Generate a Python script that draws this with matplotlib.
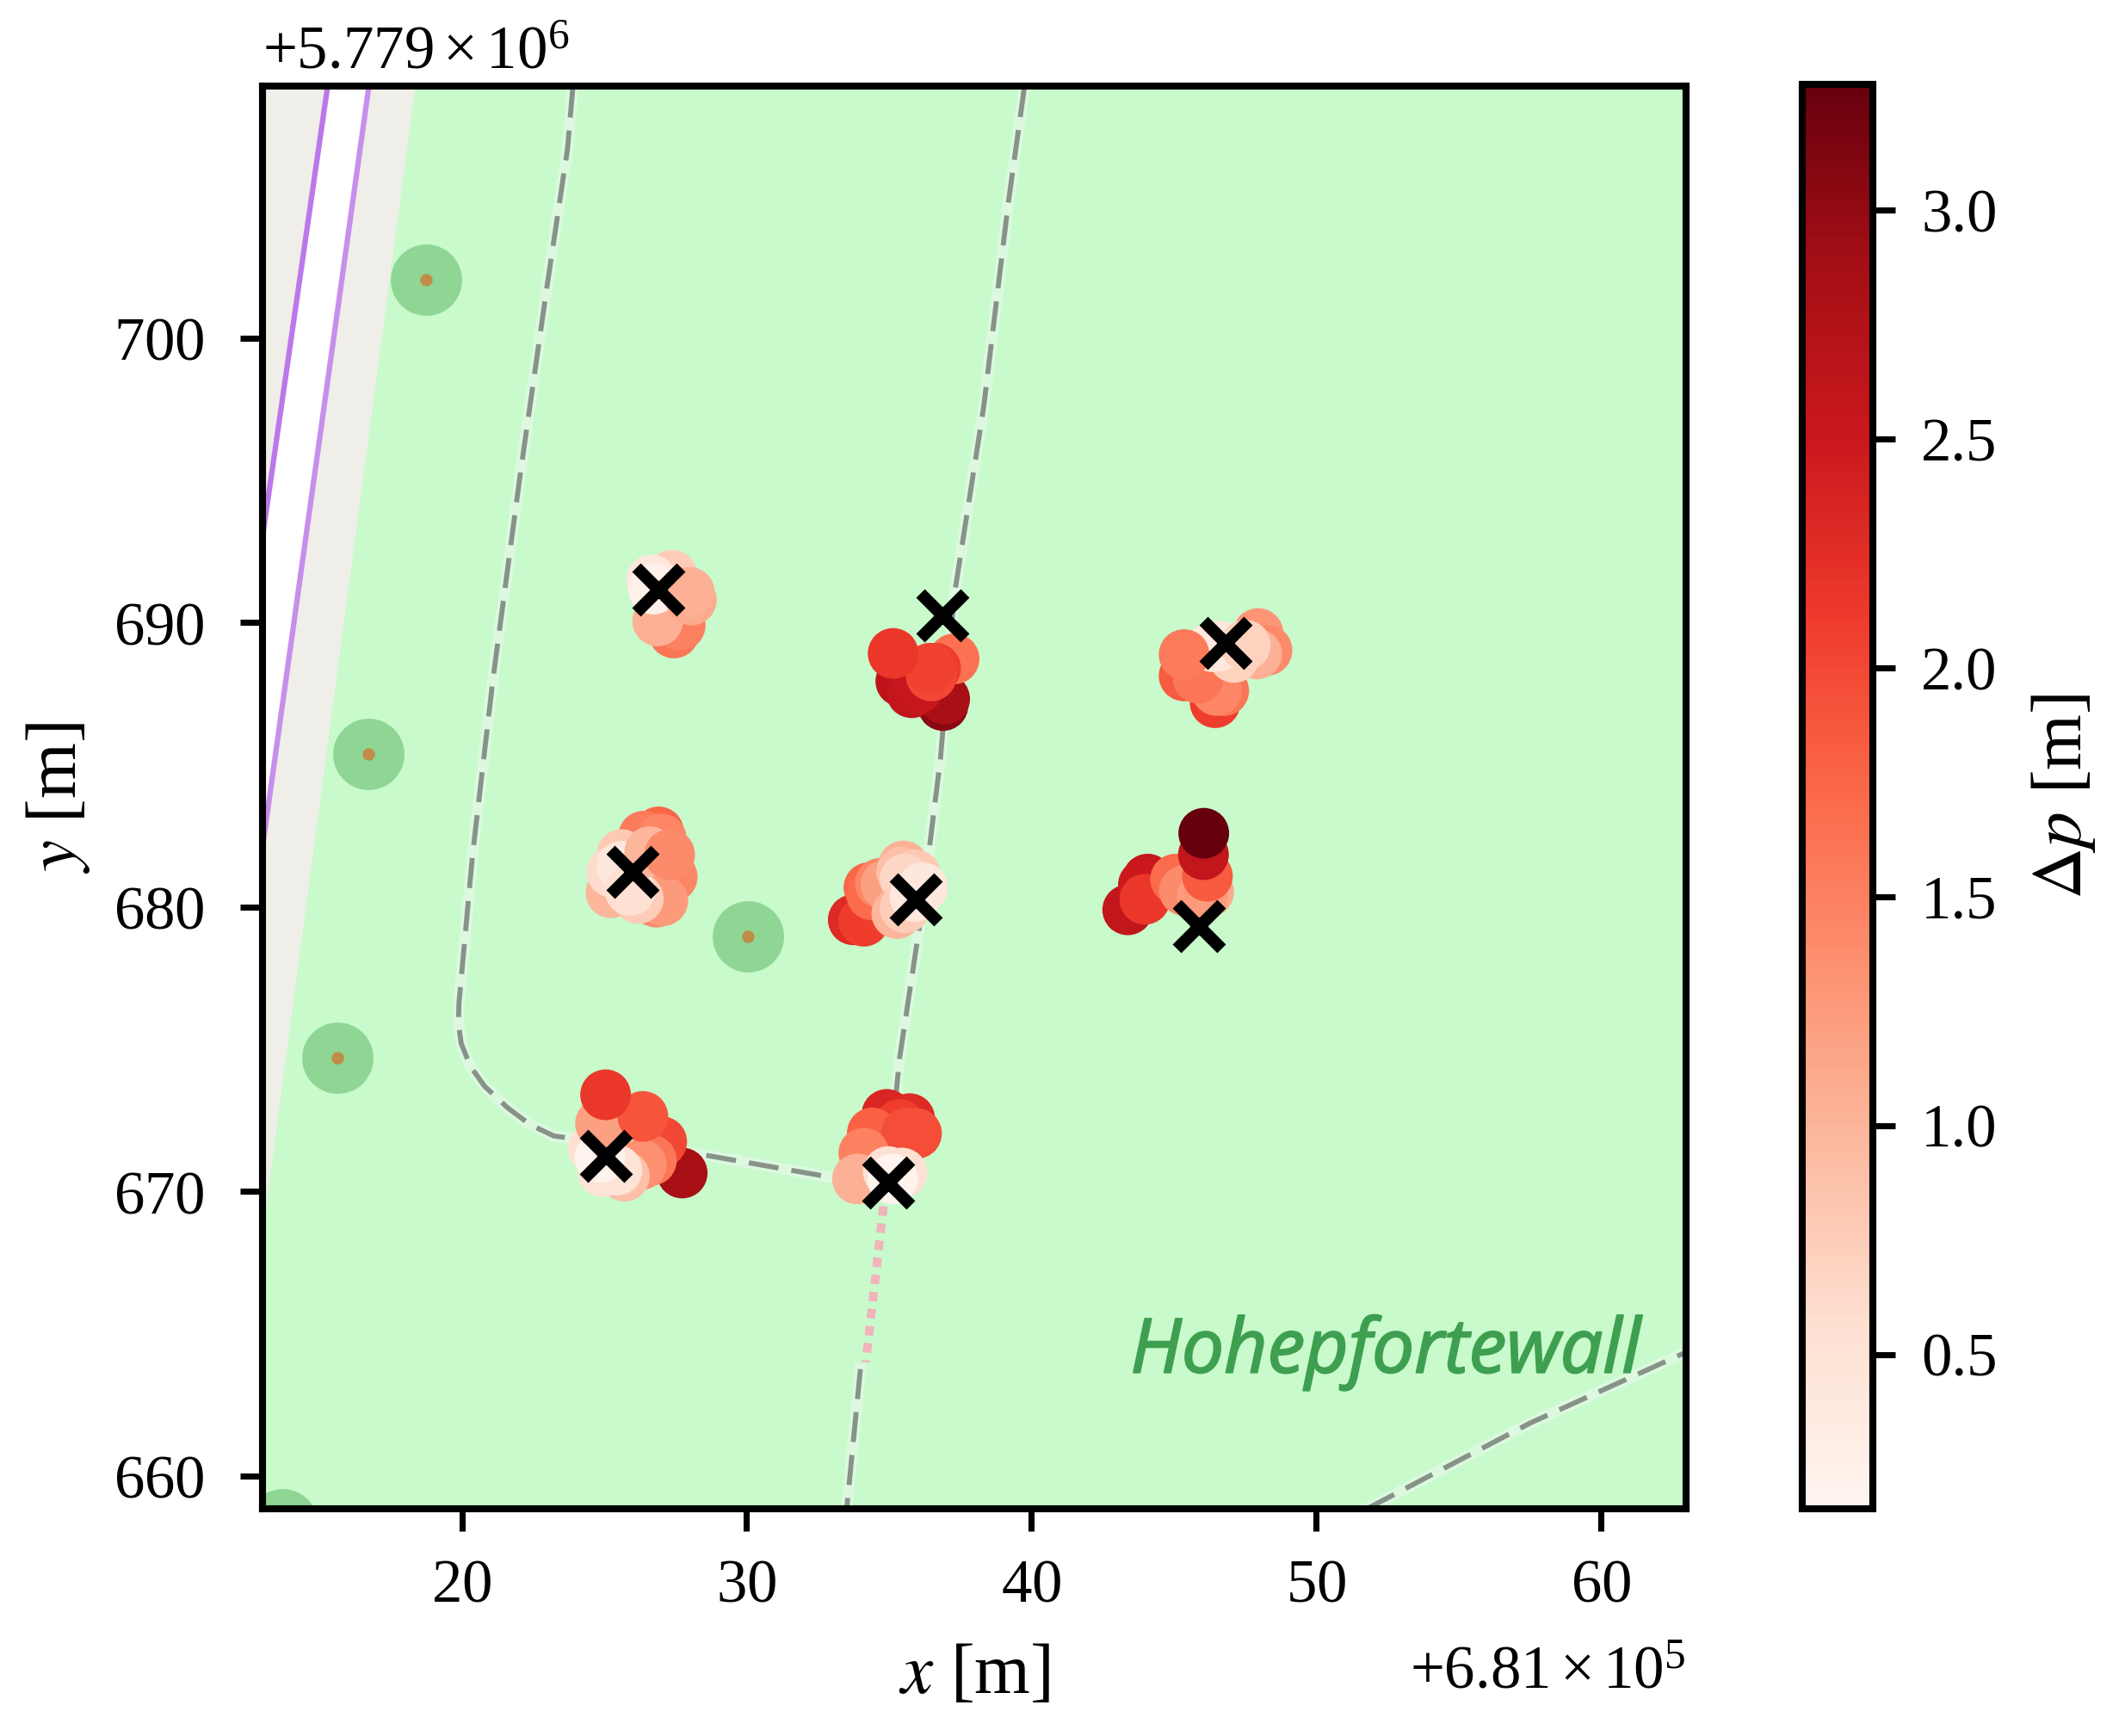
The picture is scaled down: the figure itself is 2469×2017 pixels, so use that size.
import numpy as np
import matplotlib
matplotlib.use('Agg')
import matplotlib.pyplot as plt
import matplotlib.patheffects as pe
from matplotlib.ticker import MultipleLocator, ScalarFormatter

plt.rcParams['font.family'] = ['Liberation Serif', 'DejaVu Serif']
plt.rcParams['mathtext.fontset'] = 'stix'

X0 = 681000
Y0 = 5779000

# measured positions (offset removed), one list per cluster, in drawing order
ax_x = [27.45, 27.67, 26.88, 27.38, 26.66, 26.73, 28.06, 27.99]
ax_y = [689.63, 689.90, 690.05, 691.66, 691.49, 691.17, 690.79, 691.06]
ax_v = [1.6, 1.5, 1.05, 0.75, 0.4, 0.25, 1.1, 1.05]

bx_x = [36.90, 36.96, 35.42, 35.80, 36.03, 37.29, 36.64, 36.49, 36.44, 35.15]
bx_y = [687.08, 687.31, 687.93, 687.53, 687.68, 688.72, 688.39, 688.12, 688.39, 688.91]
bx_v = [3.05, 2.85, 2.65, 2.6, 2.55, 1.65, 2.1, 2.0, 2.05, 2.15]

cx_x = [26.91, 26.39, 27.01, 27.39, 26.83, 27.06, 25.24, 26.20, 25.62, 25.27, 25.62, 25.91, 26.60, 27.30]
cx_y = [682.64, 682.49, 682.39, 681.06, 680.17, 680.22, 680.50, 680.30, 681.84, 681.23, 681.43, 680.58, 681.94, 681.84]
cx_v = [1.75, 1.55, 1.45, 1.45, 1.4, 1.25, 1.0, 0.75, 0.8, 0.6, 0.4, 0.55, 1.0, 1.4]

dx_x = [33.75, 34.12, 34.30, 34.41, 34.70, 34.90, 35.51, 35.45, 35.92, 35.57, 35.28, 35.57, 36.18, 35.92]
dx_y = [679.55, 679.50, 680.68, 680.42, 680.83, 680.78, 681.44, 681.23, 681.13, 680.98, 679.77, 679.97, 680.68, 680.37]
dx_v = [2.3, 2.1, 1.75, 1.7, 1.45, 1.2, 1.05, 0.9, 0.8, 0.65, 1.0, 0.75, 0.4, 0.4]

ex_x = [46.46, 46.76, 46.51, 45.37, 45.86, 47.97, 48.28, 47.92, 47.12, 46.61, 46.36, 47.52, 45.37]
ex_y = [687.18, 687.60, 687.61, 688.12, 688.04, 689.61, 689.02, 688.89, 688.77, 689.17, 689.15, 689.20, 688.87]
ex_v = [2.1, 1.6, 1.45, 1.85, 1.6, 1.3, 1.4, 1.05, 0.7, 0.45, 0.4, 0.7, 1.55]

fx_x = [43.39, 44.09, 43.94, 43.99, 45.07, 45.38, 46.23, 46.01, 46.19, 46.05, 46.06]
fx_y = [679.90, 680.98, 680.78, 680.27, 680.98, 680.58, 680.53, 680.38, 681.08, 681.84, 682.59]
fx_v = [2.6, 2.55, 2.5, 2.15, 1.7, 1.4, 1.1, 1.25, 1.85, 2.6, 3.27]

gx_x = [27.74, 27.02, 26.66, 26.31, 25.71, 24.62, 24.95, 25.45, 24.85, 24.87, 26.36, 25.05]
gx_y = [670.65, 671.75, 671.10, 670.95, 670.54, 671.50, 670.70, 670.75, 671.20, 672.39, 672.64, 673.40]
gx_v = [2.85, 2.0, 1.6, 1.35, 0.9, 0.55, 0.5, 0.5, 0.2, 1.2, 1.9, 2.15]

hx_x = [34.93, 35.73, 35.38, 34.42, 35.63, 35.97, 34.12, 33.90, 34.98, 35.46, 35.13]
hx_y = [672.71, 672.56, 672.36, 672.06, 672.06, 672.04, 671.35, 670.44, 670.70, 670.65, 670.44]
hx_v = [2.35, 2.3, 2.1, 1.8, 1.95, 1.95, 1.5, 1.05, 0.55, 0.55, 0.2]

cross_x = [26.91, 36.88, 25.99, 35.94, 46.83, 45.89, 25.05, 34.98]
cross_y = [691.16, 690.25, 681.23, 680.27, 689.29, 679.34, 671.25, 670.31]

# map background
road_x = [10, 18.3, 11.8, 10]
road_y = [709.5, 708.8, 660.0, 660.0]
lane1_x = [15.27, 13.0, 12.0]
lane1_y = [708.73, 693.0, 686.0]
lane2_x = [16.72, 13.0, 12.0]
lane2_y = [708.73, 682.1, 675.0]
tree_x = [18.74, 16.71, 30.05, 15.62, 13.7]
tree_y = [702.05, 685.38, 678.95, 674.71, 658.3]
path1_x = [23.9, 23.71, 23.0, 22.05, 21.1, 20.38, 19.9, 19.88, 19.98, 20.3, 20.8, 21.6, 22.4, 23.24, 28.48, 32.86]
path1_y = [708.8, 706.62, 701.86, 695.19, 688.05, 681.86, 676.62, 675.9, 675.2, 674.4, 673.7, 672.95, 672.35, 671.95, 671.29, 670.52]
path2_x = [39.76, 39.19, 38.33, 37.29, 36.81, 36.1, 35.38, 35.0]
path2_y = [708.81, 704.71, 697.57, 690.9, 685.19, 679.48, 674.71, 670.9]
path3_x = [34.0, 33.52]
path3_y = [663.76, 658.86]
path4_x = [51.81, 57.52, 62.95]
path4_y = [658.86, 661.86, 664.33]
pink_x = [34.81, 34.19]
pink_y = [669.48, 664.0]

fig = plt.figure(figsize=(2469 / 300, 2017 / 300), dpi=300)
ax = fig.add_axes([305 / 2469, 1 - 1753 / 2017, 1654 / 2469, 1653 / 2017])
ax.set_facecolor('#c8facc')

ax.fill(np.array(road_x) + X0, np.array(road_y) + Y0, color='#f0eee8', zorder=1)
ax.fill(np.array(lane1_x[:2] + lane2_x[:2][::-1]) + X0,
        np.array(lane1_y[:2] + lane2_y[:2][::-1]) + Y0, color='white', zorder=1.1)
ax.plot(np.array(lane1_x) + X0, np.array(lane1_y) + Y0, color='#bb78ea', lw=1.5, zorder=1.2)
ax.plot(np.array(lane2_x) + X0, np.array(lane2_y) + Y0, color='#c88eec', lw=1.5, zorder=1.2)
ax.scatter(np.array(tree_x) + X0, np.array(tree_y) + Y0, s=395, color='#8fd694', lw=0, zorder=1.5)
ax.scatter(np.array(tree_x) + X0, np.array(tree_y) + Y0, s=12, color='#c08c48', lw=0, zorder=1.6)

for px, py in [(path1_x, path1_y), (path2_x, path2_y), (path3_x, path3_y), (path4_x, path4_y)]:
    ax.plot(np.array(px) + X0, np.array(py) + Y0, color='#dcf9df', lw=3.2, zorder=2)
    ax.plot(np.array(px) + X0, np.array(py) + Y0, color='#879389', lw=1.4,
            linestyle=(0, (6, 2.6)), zorder=2.1)
ax.plot(np.array(pink_x) + X0, np.array(pink_y) + Y0, color='#f0b4ba', lw=2.4,
        linestyle=(0, (1.1, 0.9)), zorder=2.1)
ax.text(52.45 + X0, 664.35 + Y0, 'Hohepfortewall', family='Open Sans', style='italic',
        color='#3f9f50', fontsize=21, ha='center', va='center', zorder=2.2,
        path_effects=[pe.withStroke(linewidth=0.5, foreground='#3f9f50')])

xs = np.array(ax_x + bx_x + cx_x + dx_x + ex_x + fx_x + gx_x + hx_x) + X0
ys = np.array(ax_y + bx_y + cx_y + dx_y + ex_y + fx_y + gx_y + hx_y) + Y0
vs = np.array(ax_v + bx_v + cx_v + dx_v + ex_v + fx_v + gx_v + hx_v)
sc = ax.scatter(xs, ys, c=vs, s=200, cmap='Reds', vmin=0.163, vmax=3.275, lw=0, zorder=3)
ax.scatter(np.array(cross_x) + X0, np.array(cross_y) + Y0, marker='x', s=155, color='black',
           linewidths=3.4, zorder=4)

ax.set_xlim(X0 + 13, X0 + 63)
ax.set_ylim(Y0 + 658.85, Y0 + 708.85)
ax.xaxis.set_major_locator(MultipleLocator(10))
ax.yaxis.set_major_locator(MultipleLocator(10))
ax.xaxis.set_major_formatter(ScalarFormatter(useOffset=X0, useMathText=True))
ax.yaxis.set_major_formatter(ScalarFormatter(useOffset=Y0, useMathText=True))
ax.tick_params(axis='x', labelsize=17, width=1.7, length=6.3, pad=7.6)
ax.tick_params(axis='y', labelsize=17, width=1.7, length=6.3, pad=9.8)
ax.xaxis.get_offset_text().set_fontsize(17)
ax.yaxis.get_offset_text().set_fontsize(17)
ax.xaxis.OFFSETTEXTPAD = 8.6
ax.yaxis.OFFSETTEXTPAD = 4.9
ax.set_xlabel(r'$x$ [m]', fontsize=20, labelpad=8)
ax.set_ylabel(r'$y$ [m]', fontsize=20, labelpad=6)
for s in ax.spines.values():
    s.set_linewidth(1.95)

cax = fig.add_axes([2094 / 2469, 1 - 1753 / 2017, 82 / 2469, 1655 / 2017])
cb = fig.colorbar(sc, cax=cax)
cb.set_ticks([0.5, 1.0, 1.5, 2.0, 2.5, 3.0])
cb.ax.tick_params(labelsize=17, width=1.7, length=6.3, pad=7.2)
cb.outline.set_linewidth(1.95)
cb.set_label(r'$\Delta p$ [m]', fontsize=20, labelpad=9)

fig.savefig('out.png', dpi=300)
